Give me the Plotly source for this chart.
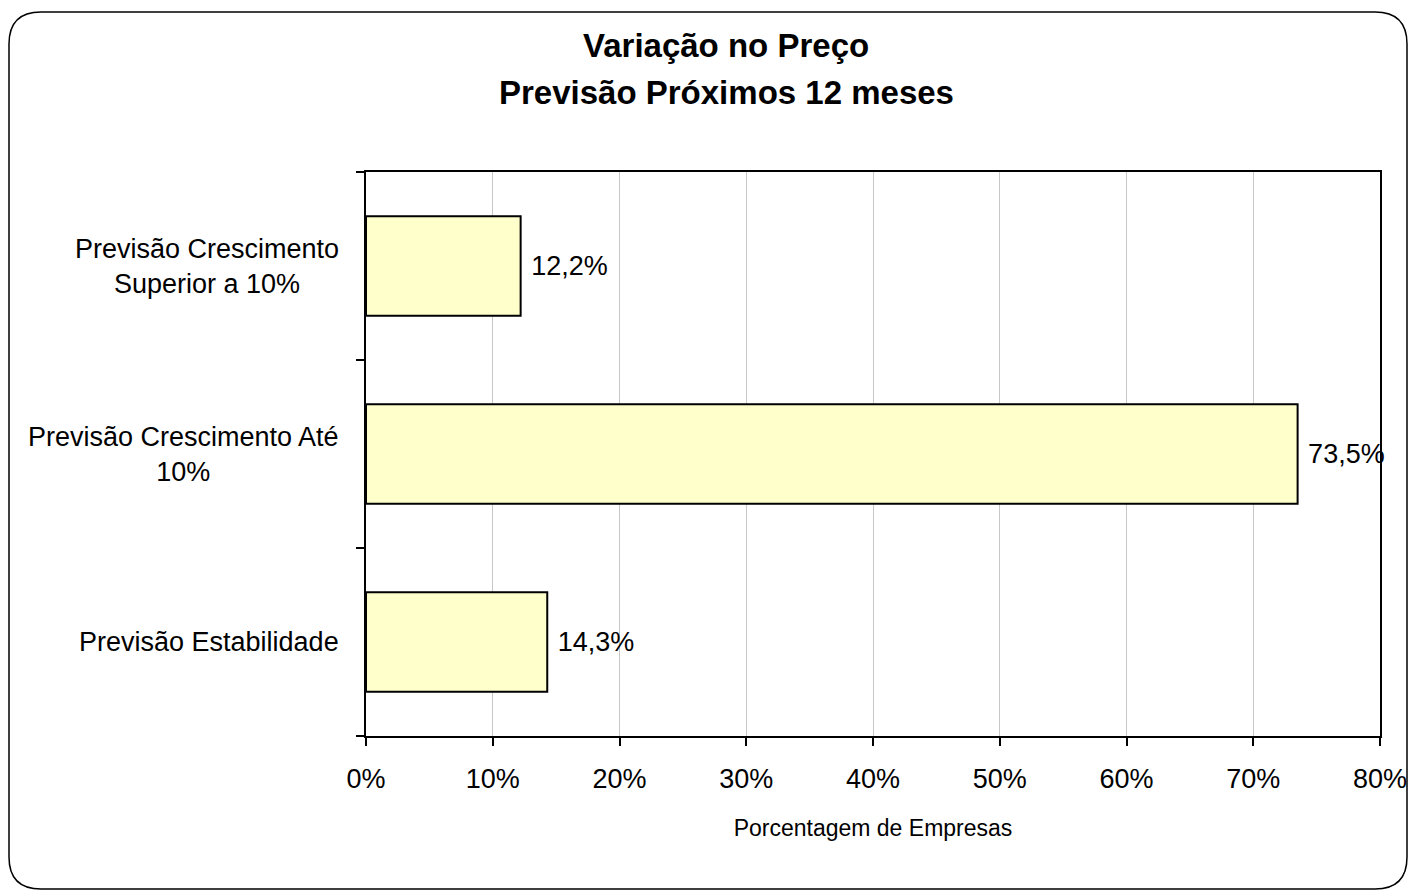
import plotly.graph_objects as go

categories = ["Previsão Estabilidade", "Previsão Crescimento Até 10%", "Previsão Crescimento Superior a 10%"]
category_labels = ["Previsão Estabilidade", "Previsão Crescimento Até<br>10%", "Previsão Crescimento<br>Superior a 10%"]
values = [0.143, 0.735, 0.122]
x_ticks = [0, 0.1, 0.2, 0.3, 0.4, 0.5, 0.6, 0.7, 0.8]

W, H = 1410, 892
L, R, T, B = 366, 1380, 172, 736  # plot area in screen pixels
FONT = "Liberation Sans, Arial, sans-serif"


def px(x):
    return (x - L) / (R - L)


def py(y):
    return (B - y) / (B - T)


fig = go.Figure(go.Bar(
    y=categories,
    x=values,
    orientation="h",
    width=0.53,
    marker=dict(color="#FFFFCC", line=dict(color="black", width=2)),
    texttemplate="\u00a0%{x:.1%}",
    textposition="outside",
    textfont=dict(size=27, color="black", family=FONT),
    constraintext="none",
    cliponaxis=False,
))

fig.update_layout(
    width=W, height=H,
    margin=dict(l=L, r=W - R, t=T, b=H - B),
    paper_bgcolor="white",
    plot_bgcolor="white",
    separators=",.",
    showlegend=False,
    font=dict(family=FONT, color="black"),
    xaxis=dict(
        range=[0, 0.8],
        tickvals=x_ticks,
        tickformat=".0%",
        tickfont=dict(size=27),
        ticks="outside", ticklen=8, tickcolor="black", tickwidth=2,
        ticklabelstandoff=10,
        showgrid=True, gridcolor="#c8c8c8", gridwidth=1,
        showline=True, linecolor="black", linewidth=2, mirror=True,
        zeroline=False,
        automargin=False,
        title=dict(text="Porcentagem de Empresas", font=dict(size=23), standoff=26),
    ),
    yaxis=dict(
        categoryorder="array", categoryarray=categories,
        tickson="boundaries",
        ticks="outside", ticklen=8, tickcolor="black", tickwidth=2,
        showticklabels=False,
        showgrid=False,
        showline=True, linecolor="black", linewidth=2, mirror=True,
        zeroline=False,
        automargin=False,
    ),
)

for cat, lab in zip(categories, category_labels):
    fig.add_annotation(
        x=px(341), xref="paper", y=cat, yref="y",
        text=lab, showarrow=False, xanchor="right", yanchor="middle", align="center",
        font=dict(size=27, color="black", family=FONT),
    )

fig.add_annotation(x=px(726), xref="paper", y=py(45), yref="paper",
                   xanchor="center", yanchor="middle",
                   text="<b>Variação no Preço</b>", showarrow=False,
                   font=dict(size=33, color="black", family=FONT))
fig.add_annotation(x=px(726), xref="paper", y=py(92), yref="paper",
                   xanchor="center", yanchor="middle",
                   text="<b>Previsão Próximos 12 meses</b>", showarrow=False,
                   font=dict(size=33, color="black", family=FONT))

# rounded outer border
x0, x1, y0, y1, r = 9, 1407, 12, 889, 32
path = (
    f"M {px(x0 + r)},{py(y0)} L {px(x1 - r)},{py(y0)} "
    f"Q {px(x1)},{py(y0)} {px(x1)},{py(y0 + r)} "
    f"L {px(x1)},{py(y1 - r)} Q {px(x1)},{py(y1)} {px(x1 - r)},{py(y1)} "
    f"L {px(x0 + r)},{py(y1)} Q {px(x0)},{py(y1)} {px(x0)},{py(y1 - r)} "
    f"L {px(x0)},{py(y0 + r)} Q {px(x0)},{py(y0)} {px(x0 + r)},{py(y0)} Z"
)
fig.add_shape(type="path", path=path, xref="paper", yref="paper",
              line=dict(color="black", width=1.5), layer="above")

# drop the page's default body margin so the figure fills the window
fig.write_html("out.html",
               config={"displayModeBar": False},
               post_script="document.body.style.margin='0';document.body.style.overflow='hidden';")
